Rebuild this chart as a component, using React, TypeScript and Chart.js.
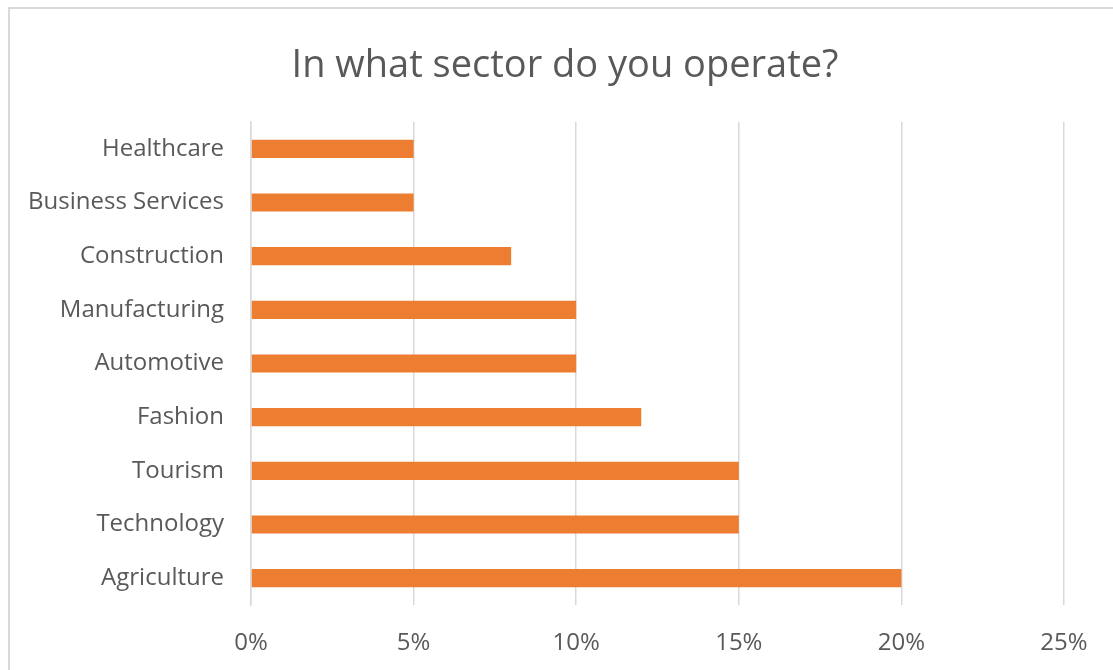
import React, { useEffect, useRef } from "react";
import { Chart, registerables } from "chart.js";

Chart.register(...registerables);

const categories = [
  "Healthcare",
  "Business Services",
  "Construction",
  "Manufacturing",
  "Automotive",
  "Fashion",
  "Tourism",
  "Technology",
  "Agriculture",
];
const shares = [5, 5, 8, 10, 10, 12, 15, 15, 20];
const xTicks = [0, 5, 10, 15, 20, 25];
const titleText = "In what sector do you operate?";

const FONT = "'Open Sans', 'Segoe UI', sans-serif";
const GREY = "#595959";

export default function App() {
  const ref = useRef<HTMLCanvasElement | null>(null);

  useEffect(() => {
    if (!ref.current) return;
    const chart = new Chart(ref.current, {
      type: "bar",
      data: {
        labels: categories,
        datasets: [
          {
            data: shares,
            backgroundColor: "#ED7D31",
            borderWidth: 0,
            barPercentage: 0.34,
            categoryPercentage: 1,
          },
        ],
      },
      options: {
        indexAxis: "y",
        responsive: false,
        animation: false,
        devicePixelRatio: 1,
        layout: { padding: { left: 0, right: 49, top: 122, bottom: 0 } },
        plugins: {
          legend: { display: false },
          tooltip: { enabled: false },
          title: { display: false },
        },
        scales: {
          x: {
            min: 0,
            max: 25,
            afterBuildTicks: (axis: any) => {
              axis.ticks = xTicks.map((v) => ({ value: v }));
            },
            afterFit: (axis: any) => {
              axis.height = 65;
            },
            grid: { color: "#d9d9d9", lineWidth: 1.5, drawTicks: false },
            border: { display: false },
            ticks: {
              color: GREY,
              padding: 24,
              font: { family: FONT, size: 24 },
              callback: (v: any) => v + "%",
            },
          },
          y: {
            afterFit: (axis: any) => {
              axis.width = 251;
            },
            grid: { display: false, drawTicks: false },
            border: { display: true, color: "#d9d9d9", width: 1.5 },
            ticks: {
              color: GREY,
              padding: 27,
              font: { family: FONT, size: 24 },
            },
          },
        },
      },
    });
    return () => chart.destroy();
  }, []);

  return (
    <div
      style={{
        position: "fixed",
        left: 0,
        top: 0,
        width: 1113,
        height: 670,
        overflow: "hidden",
        background: "#fff",
      }}
    >
      <div
        style={{
          position: "absolute",
          left: 8,
          top: 7,
          width: 1200,
          height: 720,
          border: "2px solid #d9d9d9",
          boxSizing: "border-box",
        }}
      />
      <canvas
        ref={ref}
        width={1113}
        height={670}
        style={{ position: "absolute", left: 0, top: 0 }}
      />
      <div
        style={{
          position: "absolute",
          left: 0,
          top: 40,
          width: 1130,
          height: 44,
          lineHeight: "44px",
          textAlign: "center",
          fontFamily: FONT,
          fontSize: 38,
          color: GREY,
          whiteSpace: "nowrap",
        }}
      >
        {titleText}
      </div>
    </div>
  );
}
